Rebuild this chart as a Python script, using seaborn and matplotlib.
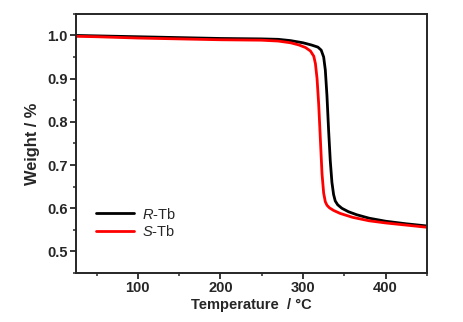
import numpy as np
import pandas as pd
import matplotlib
matplotlib.use("Agg")
import matplotlib.pyplot as plt
import seaborn as sns
from matplotlib.ticker import MultipleLocator

# --- DATA ---
r_temp = [25, 50, 100, 150, 200, 250, 270, 285, 300, 310, 318, 322, 325, 327, 329,
          331, 333, 335, 337, 339, 342, 347, 355, 365, 380, 400, 425, 450]
r_weight = [1.000, 0.999, 0.997, 0.995, 0.993, 0.992, 0.991, 0.988, 0.983, 0.978,
            0.973, 0.966, 0.950, 0.92, 0.86, 0.78, 0.71, 0.66, 0.632, 0.617,
            0.608, 0.600, 0.592, 0.585, 0.577, 0.570, 0.564, 0.559]

s_temp = [25, 50, 100, 150, 200, 250, 270, 285, 295, 303, 309, 313, 315, 317, 319,
          321, 323, 325, 327, 329, 332, 337, 345, 360, 380, 400, 425, 450]
s_weight = [0.998, 0.997, 0.994, 0.992, 0.990, 0.989, 0.987, 0.983, 0.978, 0.972,
            0.964, 0.952, 0.935, 0.90, 0.84, 0.76, 0.68, 0.635, 0.615, 0.607,
            0.601, 0.595, 0.588, 0.579, 0.571, 0.566, 0.561, 0.556]

series_names = ["R-Tb", "S-Tb"]
series_colors = ["black", "red"]

df = pd.concat([
    pd.DataFrame({"T": r_temp, "W": r_weight, "sample": series_names[0]}),
    pd.DataFrame({"T": s_temp, "W": s_weight, "sample": series_names[1]}),
])

sns.set_style("ticks")
plt.rcParams["font.family"] = ["Liberation Sans", "DejaVu Sans"]
plt.rcParams["mathtext.fontset"] = "custom"
plt.rcParams["mathtext.it"] = "Liberation Sans:italic"
plt.rcParams["mathtext.rm"] = "Liberation Sans"

fig = plt.figure(figsize=(4.63, 3.22), dpi=100)
ax = fig.add_axes([0.164, 0.152, 0.758, 0.805])

sns.lineplot(data=df, x="T", y="W", hue="sample", palette=series_colors,
             linewidth=2.0, ax=ax, sort=False)

ax.set_xlim(25, 450)
ax.set_ylim(0.45, 1.05)
ax.xaxis.set_major_locator(MultipleLocator(100))
ax.xaxis.set_minor_locator(MultipleLocator(50))
ax.yaxis.set_major_locator(MultipleLocator(0.1))
ax.yaxis.set_minor_locator(MultipleLocator(0.05))
ax.yaxis.set_major_formatter(matplotlib.ticker.FormatStrFormatter("%.1f"))

for s in ax.spines.values():
    s.set_visible(True)
    s.set_linewidth(1.4)
ax.tick_params(which="major", direction="out", length=4, width=1.3,
               labelsize=10.5, pad=2)
ax.tick_params(which="minor", direction="out", length=2.5, width=1.1)
for lab in ax.get_xticklabels() + ax.get_yticklabels():
    lab.set_fontweight("bold")

ax.set_xlabel("Temperature  / °C", fontsize=10.5, fontweight="bold", labelpad=2)
ax.set_ylabel("Weight / %", fontsize=11.8, fontweight="bold", labelpad=5)

leg = ax.legend(frameon=False, loc="lower left", bbox_to_anchor=(0.04, 0.11),
                fontsize=10.5, handlelength=2.6, handletextpad=0.6,
                labelspacing=0.15, borderaxespad=0)
for t, name in zip(leg.get_texts(), series_names):
    a, b = name.split("-")
    t.set_text(r"$\mathit{" + a + "}$-" + b)

fig.savefig("out.png", dpi=100)
